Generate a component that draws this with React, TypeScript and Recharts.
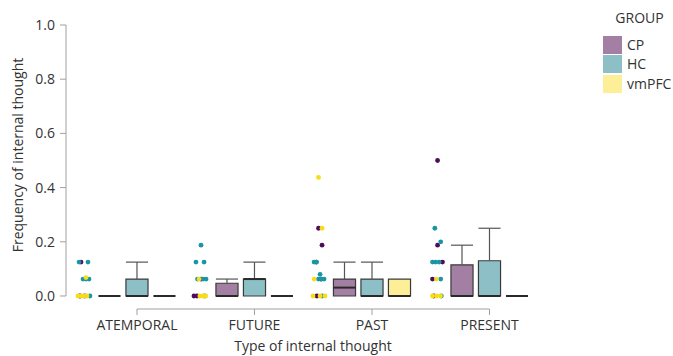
import React from 'react';
import { ComposedChart, XAxis, YAxis, Scatter, ReferenceArea, ReferenceLine } from 'recharts';

// ---------- data ----------
const categories = ['ATEMPORAL', 'FUTURE', 'PAST', 'PRESENT'];
const groups = ['CP', 'HC', 'vmPFC'];
const yTicks = [0, 0.2, 0.4, 0.6, 0.8, 1.0];

// individual observations: [categoryIndex, value, jitter]
const cpPoints: [number, number, number][] = [
  [0, 0.125, -0.021], [0, 0, -0.03], [0, 0, 0.01],
  [1, 0.0625, 0.0], [1, 0, -0.06], [1, 0, -0.034],
  [2, 0.25, 0.0], [2, 0.1875, 0.03], [2, 0.125, -0.02], [2, 0.0625, 0.02], [2, 0, -0.013],
  [3, 0.5, 0.013], [3, 0.1875, 0.013], [3, 0.125, 0.055], [3, 0.0625, -0.03], [3, 0, -0.02],
];
const hcPoints: [number, number, number][] = [
  [0, 0.125, -0.038], [0, 0.125, 0.038], [0, 0.0625, -0.004], [0, 0.0625, 0.021], [0, 0.0625, 0.047], [0, 0, -0.03], [0, 0, 0.055],
  [1, 0.1875, 0.0], [1, 0.125, -0.043], [1, 0.125, 0.026], [1, 0.0625, -0.03], [1, 0.0625, 0.017], [1, 0.0625, 0.043], [1, 0, 0.03],
  [2, 0.125, -0.038], [2, 0.125, -0.017], [2, 0.08, 0.013], [2, 0.0625, 0.0], [2, 0.0625, 0.026], [2, 0.0625, 0.047], [2, 0, 0.03],
  [3, 0.25, -0.01], [3, 0.2, 0.04], [3, 0.125, -0.03], [3, 0.125, -0.004], [3, 0.125, 0.026], [3, 0.0625, 0.04], [3, 0, 0.045],
];
const vmpfcPoints: [number, number, number][] = [
  [0, 0.068, 0.021], [0, 0, -0.047], [0, 0, -0.021], [0, 0, 0.004], [0, 0, 0.03],
  [1, 0.0625, -0.017], [1, 0, -0.01], [1, 0, 0.017], [1, 0, 0.04],
  [2, 0.4375, 0.0], [2, 0.25, 0.03], [2, 0.0625, -0.038], [2, 0, -0.047], [2, 0, 0.013], [2, 0, 0.055],
  [3, 0.0625, 0.004], [3, 0, -0.03], [3, 0, 0.004], [3, 0, 0.038],
];

// box statistics per category: [q1, median, q3, lowerWhisker, upperWhisker]
const cpBoxes: [number, number, number, number, number][] = [
  [0, 0, 0, 0, 0],
  [0, 0, 0.047, 0, 0.0625],
  [0, 0.031, 0.0625, 0, 0.125],
  [0, 0, 0.115, 0, 0.1875],
];
const hcBoxes: [number, number, number, number, number][] = [
  [0, 0, 0.0625, 0, 0.125],
  [0, 0.0625, 0.0625, 0, 0.125],
  [0, 0, 0.0625, 0, 0.125],
  [0, 0, 0.13, 0, 0.25],
];
const vmpfcBoxes: [number, number, number, number, number][] = [
  [0, 0, 0, 0, 0],
  [0, 0, 0, 0, 0],
  [0, 0, 0.0625, 0, 0.0625],
  [0, 0, 0, 0, 0],
];

// ---------- styling / layout ----------
const pointColors = ['#4d0d5c', '#1996a3', '#f7dc1c'];
const boxFills = ['#a37fa3', '#8cc0c6', '#fcef98'];
const groupOffsets = [-0.234, 0, 0.234];
const stripOffset = -0.455;
const halfBox = 0.094;
const xDomain: [number, number] = [-0.604, 3.6];
const yDomain: [number, number] = [-0.048, 1];
const FONT = '"Open Sans", sans-serif';
const TEXT = '#333333';
const AXIS = '#a0a0a0';

const allPoints = [cpPoints, hcPoints, vmpfcPoints];
const allBoxes = [cpBoxes, hcBoxes, vmpfcBoxes];

const toXY = (pts: [number, number, number][]) =>
  pts.map(([c, v, j]) => ({ x: c + stripOffset + j, y: v }));

const Dot = (color: string) => (props: any) => (
  <circle cx={props.cx} cy={props.cy} r={2.4} fill={color} />
);

export default function App() {
  const boxElements: React.ReactNode[] = [];
  allBoxes.forEach((boxes, g) => {
    boxes.forEach(([q1, med, q3, lo, hi], c) => {
      const xc = c + groupOffsets[g];
      const xl = xc - halfBox;
      const xr = xc + halfBox;
      const key = `${g}-${c}`;
      if (hi > q3) {
        boxElements.push(
          <ReferenceLine key={`wu${key}`} segment={[{ x: xc, y: q3 }, { x: xc, y: hi }]} stroke="#555" strokeWidth={1.2} ifOverflow="visible" />,
          <ReferenceLine key={`cu${key}`} segment={[{ x: xl, y: hi }, { x: xr, y: hi }]} stroke="#555" strokeWidth={1.2} ifOverflow="visible" />
        );
      }
      if (lo < q1) {
        boxElements.push(
          <ReferenceLine key={`wl${key}`} segment={[{ x: xc, y: lo }, { x: xc, y: q1 }]} stroke="#555" strokeWidth={1.2} ifOverflow="visible" />,
          <ReferenceLine key={`cl${key}`} segment={[{ x: xl, y: lo }, { x: xr, y: lo }]} stroke="#555" strokeWidth={1.2} ifOverflow="visible" />
        );
      }
      if (q3 > q1) {
        boxElements.push(
          <ReferenceArea key={`b${key}`} x1={xl} x2={xr} y1={q1} y2={q3} fill={boxFills[g]} fillOpacity={1} stroke="#3a3a3a" strokeWidth={1.2} ifOverflow="visible" />
        );
      }
      boxElements.push(
        <ReferenceLine key={`m${key}`} segment={[{ x: xl, y: med }, { x: xr, y: med }]} stroke="#2a2a2a" strokeWidth={2} ifOverflow="visible" />
      );
    });
  });

  return (
    <div style={{ position: 'absolute', left: 0, top: 0, width: 673, height: 356, fontFamily: FONT, background: '#fff' }}>
      <ComposedChart width={673} height={356} margin={{ top: 25, right: 113, bottom: 0, left: 0 }}>
        <XAxis
          type="number"
          dataKey="x"
          domain={xDomain}
          ticks={[0, 1, 2, 3]}
          interval={0}
          allowDataOverflow
          tickFormatter={(v: number) => categories[v] ?? ''}
          axisLine={false}
          tickLine={{ stroke: AXIS }}
          tickSize={6}
          tickMargin={5}
          height={47}
          tick={{ fill: TEXT, fontSize: 14, fontFamily: FONT }}
          label={{
            content: () => (
              <text x={313} y={351} textAnchor="middle" fill={TEXT} fontSize={14} fontFamily={FONT}>
                Type of internal thought
              </text>
            ),
          }}
        />
        <YAxis
          type="number"
          dataKey="y"
          domain={yDomain}
          ticks={yTicks}
          allowDataOverflow
          width={66}
          axisLine={false}
          tickLine={{ stroke: AXIS }}
          tickSize={6}
          tickMargin={5}
          tickFormatter={(v: number) => v.toFixed(1)}
          tick={{ fill: TEXT, fontSize: 14, fontFamily: FONT }}
          label={{
            content: () => (
              <text transform="translate(23,155) rotate(-90)" x={0} y={0} textAnchor="middle" fill={TEXT} fontSize={14} fontFamily={FONT}>
                Frequency of internal thought
              </text>
            ),
          }}
        />
        <ReferenceLine segment={[{ x: xDomain[0], y: 0 }, { x: xDomain[0], y: 1 }]} stroke={AXIS} strokeWidth={1} ifOverflow="visible" />
        <ReferenceLine segment={[{ x: 0, y: yDomain[0] }, { x: 3, y: yDomain[0] }]} stroke={AXIS} strokeWidth={1} ifOverflow="visible" />
        {boxElements}
        {allPoints.map((pts, g) => (
          <Scatter key={groups[g]} name={groups[g]} data={toXY(pts)} fill={pointColors[g]} shape={Dot(pointColors[g])} isAnimationActive={false} />
        ))}
      </ComposedChart>
      <div style={{ position: 'absolute', left: 600, top: 8, width: 73, fontFamily: FONT, color: TEXT, fontSize: 14 }}>
        <div style={{ textAlign: 'center', paddingLeft: 6, height: 20, lineHeight: '20px', marginBottom: 7 }}>GROUP</div>
        {groups.map((g, i) => (
          <div key={g} style={{ display: 'flex', alignItems: 'center', height: 19.5 }}>
            <div style={{ width: 19, height: 18, background: boxFills[i], marginLeft: 3, marginRight: 5 }} />
            <span style={{ lineHeight: '18px' }}>{g}</span>
          </div>
        ))}
      </div>
    </div>
  );
}
